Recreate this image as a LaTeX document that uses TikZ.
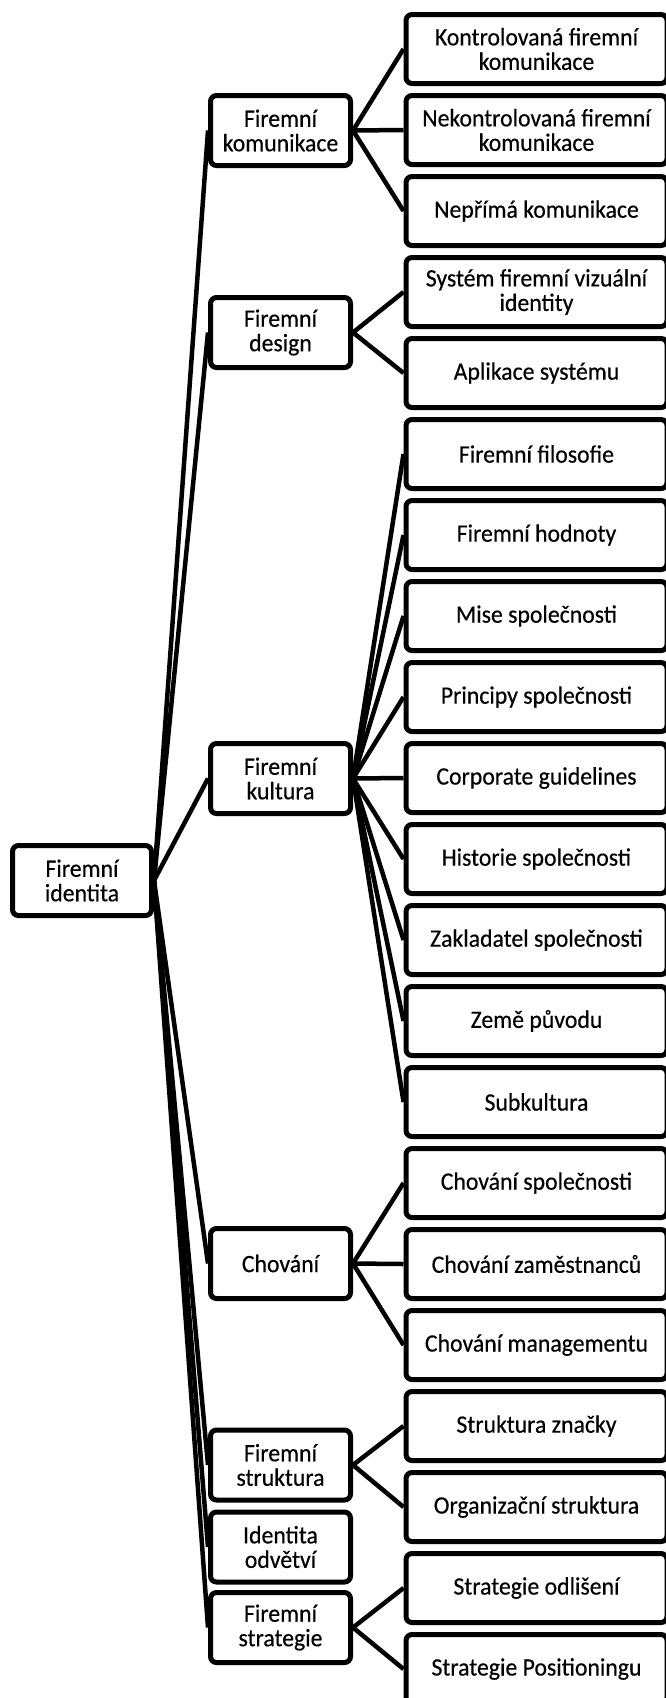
\documentclass[tikz,border=0pt]{standalone}
\usepackage{fontspec}
\setmainfont[FakeStretch=0.95,FakeBold=0.4]{Carlito}
\usetikzlibrary{backgrounds}
\begin{document}
\begin{tikzpicture}[x=1pt,y=-1pt,
  box/.style={draw, line width=5pt, rounded corners=6pt, fill=white, align=center,
    inner sep=0pt, font=\fontsize{25}{24.5}\selectfont, text=black},
  rootbox/.style={box, minimum width=139pt, minimum height=70pt},
  mid/.style={box, minimum width=140pt, minimum height=70pt},
  leaf/.style={box, minimum width=261pt, minimum height=69pt},
  conn/.style={line width=4.5pt}]
\useasboundingbox (0,0) rectangle (665,1698);

\node[rootbox] (root) at (82,880.5) {Firemní\\identita};

\node[mid] (m1) at (280.5,130.5) {Firemní\\komunikace};
\node[mid] (m2) at (280.5,332.5) {Firemní\\design};
\node[mid] (m3) at (280.5,778.5) {Firemní\\kultura};
\node[mid] (m4) at (280.5,1263.5) {Chování};
\node[mid] (m5) at (280.5,1465) {Firemní\\struktura};
\node[mid] (m6) at (280.5,1547) {Identita\\odvětví};
\node[mid] (m7) at (280.5,1627.5) {Firemní\\strategie};

\node[leaf] (l0) at (536.5,49) {Kontrolovaná firemní\\komunikace};
\node[leaf] (l1) at (536.5,130) {Nekontrolovaná firemní\\komunikace};
\node[leaf] (l2) at (536.5,211) {Nepřímá komunikace};
\node[leaf] (l3) at (536.5,292) {Systém firemní vizuální\\identity};
\node[leaf] (l4) at (536.5,373) {Aplikace systému};
\node[leaf] (l5) at (536.5,454) {Firemní filosofie};
\node[leaf] (l6) at (536.5,535) {Firemní hodnoty};
\node[leaf] (l7) at (536.5,616) {Mise společnosti};
\node[leaf] (l8) at (536.5,697) {Principy společnosti};
\node[leaf] (l9) at (536.5,778) {Corporate guidelines};
\node[leaf] (l10) at (536.5,859) {Historie společnosti};
\node[leaf] (l11) at (536.5,940) {Zakladatel společnosti};
\node[leaf] (l12) at (536.5,1021) {Země původu};
\node[leaf] (l13) at (536.5,1102) {Subkultura};
\node[leaf] (l14) at (536.5,1183) {Chování společnosti};
\node[leaf] (l15) at (536.5,1264) {Chování zaměstnanců};
\node[leaf] (l16) at (536.5,1345) {Chování managementu};
\node[leaf] (l17) at (536.5,1426) {Struktura značky};
\node[leaf] (l18) at (536.5,1507) {Organizační struktura};
\node[leaf] (l19) at (536.5,1588) {Strategie odlišení};
\node[leaf] (l20) at (536.5,1669) {Strategie Positioningu};

\begin{scope}[on background layer]
\foreach \m in {m1,m2,m3,m4,m5,m6,m7}
  \draw[conn] (root.east) -- (\m.west);
\foreach \l in {l0,l1,l2}
  \draw[conn] (m1.east) -- (\l.west);
\foreach \l in {l3,l4}
  \draw[conn] (m2.east) -- (\l.west);
\foreach \l in {l5,l6,l7,l8,l9,l10,l11,l12,l13}
  \draw[conn] (m3.east) -- (\l.west);
\foreach \l in {l14,l15,l16}
  \draw[conn] (m4.east) -- (\l.west);
\foreach \l in {l17,l18}
  \draw[conn] (m5.east) -- (\l.west);
\foreach \l in {l19,l20}
  \draw[conn] (m7.east) -- (\l.west);
\end{scope}
\end{tikzpicture}
\end{document}
